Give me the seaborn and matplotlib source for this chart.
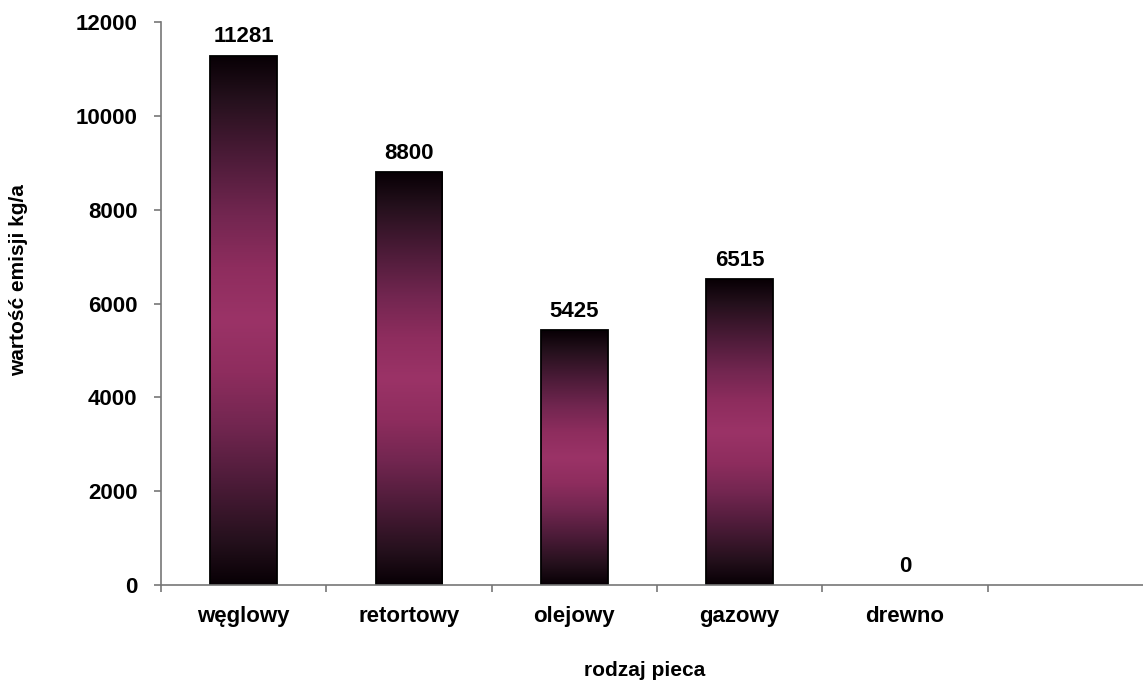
import matplotlib
matplotlib.use("Agg")
import matplotlib.pyplot as plt
import seaborn as sns
import numpy as np
import pandas as pd
from matplotlib.colors import LinearSegmentedColormap

categories = ["węglowy", "retortowy", "olejowy", "gazowy", "drewno"]
values = [11281, 8800, 5425, 6515, 0]
yticks = [0, 2000, 4000, 6000, 8000, 10000, 12000]

sns.set_theme(style="white")
plt.rcParams['font.family'] = ['Liberation Sans', 'DejaVu Sans']
plt.rcParams['font.weight'] = 'bold'
plt.rcParams['text.color'] = 'black'

df = pd.DataFrame({"cat": categories, "val": values})

fig = plt.figure(figsize=(11.43, 6.82), dpi=100)
ax = fig.add_axes([161/1143, 1-585/682, (1153-161)/1143, (585-22)/682])

sns.barplot(data=df, x="cat", y="val", ax=ax, width=0.405, color="#993366",
            edgecolor="black", linewidth=1.3)

cmap = LinearSegmentedColormap.from_list("g", [
    (0.0, "#080005"), (0.08, "#24101c"), (0.2, "#4f1c3a"), (0.3, "#722650"),
    (0.4, "#8e2d5e"), (0.5, "#9b3367"), (0.6, "#8e2d5e"), (0.7, "#722650"),
    (0.8, "#4f1c3a"), (0.92, "#24101c"), (1.0, "#080005")])
grad = np.linspace(0, 1, 256).reshape(-1, 1)
for p in ax.patches:
    h = p.get_height()
    if h <= 0:
        p.set_visible(False)
        continue
    x0 = p.get_x(); w = p.get_width()
    im = ax.imshow(grad, cmap=cmap, aspect="auto", extent=(x0, x0 + w, 0, h),
                   origin="lower", zorder=p.get_zorder(), interpolation="bilinear")
    im.set_clip_path(p)
    p.set_facecolor("none")
    p.set_zorder(p.get_zorder() + 0.1)

for i, v in enumerate(values):
    ax.annotate(f"{v}", (i, v), xytext=(0, 6), textcoords="offset points",
                ha="center", va="bottom", fontsize=16, fontweight="bold", color="black")

ax.set_xlim(-0.5, 5.5)
ax.set_ylim(0, 12000)
ax.set_yticks(yticks)
ax.set_yticklabels([str(t) for t in yticks])
ax.set_xticks(range(len(categories)))
ax.set_xticklabels(categories)
ax.set_xticks([i - 0.5 for i in range(6)], minor=True)

for s in ["top", "right"]:
    ax.spines[s].set_visible(False)
for s in ["left", "bottom"]:
    ax.spines[s].set_color("#777777")
    ax.spines[s].set_linewidth(1.2)

ax.tick_params(axis="y", which="major", direction="out", length=5, width=1.2,
               color="#777777", left=True, pad=12, labelsize=16, labelcolor="black")
ax.tick_params(axis="x", which="major", length=0, pad=15, labelsize=16, labelcolor="black")
ax.tick_params(axis="x", which="minor", direction="out", length=5, width=1.2,
               color="#777777", bottom=True)
for lab in ax.get_xticklabels() + ax.get_yticklabels():
    lab.set_fontweight("bold")

ax.set_xlabel("")
ax.set_ylabel("")
ax.grid(False)
fig.text(645/1143, 1-670/682, "rodzaj pieca", ha="center", va="center",
         fontsize=15, fontweight="bold", color="black")
fig.text(19/1143, 1-280/682, "wartość emisji kg/a", ha="center", va="center",
         rotation=90, fontsize=15, fontweight="bold", color="black")

fig.savefig("out.png", dpi=100)
